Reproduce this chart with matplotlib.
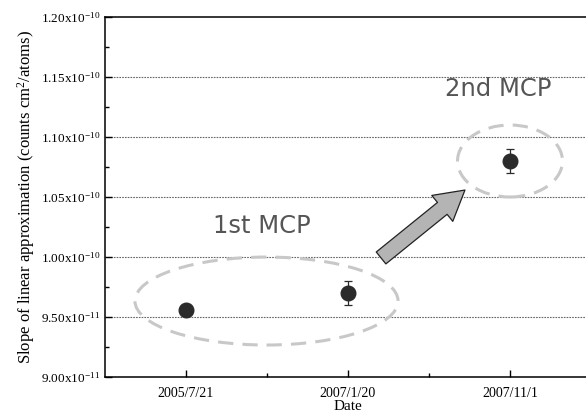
import matplotlib
matplotlib.use("Agg")
import matplotlib.pyplot as plt
from matplotlib.patches import Ellipse
from matplotlib.ticker import MultipleLocator, FixedLocator

plt.rcParams['font.family'] = ['Liberation Serif']
plt.rcParams['mathtext.fontset'] = 'custom'
plt.rcParams['mathtext.rm'] = 'Liberation Serif'
plt.rcParams['mathtext.it'] = 'Liberation Serif:italic'

dates = ["2005/7/21", "2007/1/20", "2007/11/1"]
slopes = [0.9555e-10, 0.970e-10, 1.080e-10]
errors = [0.0, 0.010e-10, 0.010e-10]
ytick_vals = [0.90e-10, 0.95e-10, 1.00e-10, 1.05e-10, 1.10e-10, 1.15e-10, 1.20e-10]
ytick_labels = [r"9.00x10$^{-11}$", r"9.50x10$^{-11}$", r"1.00x10$^{-10}$", r"1.05x10$^{-10}$",
                r"1.10x10$^{-10}$", r"1.15x10$^{-10}$", r"1.20x10$^{-10}$"]
group_labels = ["1st MCP", "2nd MCP"]

fig = plt.figure(figsize=(5.86, 4.15), dpi=100)
ax = fig.add_axes([105/586, 38/415, 486/586, 360/415])

x = list(range(1, len(dates) + 1))
ax.set_xlim(0.5, 3.5)
ax.set_ylim(0.90e-10, 1.20e-10)

for yv in ytick_vals[1:-1]:
    ax.axhline(yv, color="#666666", lw=0.8, ls=(0, (1.5, 1.0)), zorder=1)

ax.errorbar(x, slopes, yerr=errors, fmt="o", color="#2b2b2b", ms=10.5,
            ecolor="#2b2b2b", elinewidth=0.9, capsize=3, capthick=0.9, zorder=5)

ax.set_xticks(x)
ax.set_xticklabels(dates, fontsize=10)
ax.xaxis.set_minor_locator(FixedLocator([1.5, 2.5]))
ax.set_yticks(ytick_vals)
ax.set_yticklabels(ytick_labels, fontsize=9.5)
ax.yaxis.set_minor_locator(MultipleLocator(0.025e-10))
ax.tick_params(which="both", direction="in", top=False, right=False, width=1)
ax.tick_params(which="major", length=5)
ax.tick_params(which="minor", length=3)
ax.tick_params(axis="x", pad=7)
for s in ax.spines.values():
    s.set_linewidth(1.1)

ax.set_xlabel("Date", fontsize=11, labelpad=0)
ax.set_ylabel(r"Slope of linear approximation (counts cm$^2$/atoms)", fontsize=12, labelpad=3)

# ellipses
e1 = Ellipse((1.497, 0.9633e-10), 1.624, 0.0733e-10, fill=False, ec="#c8c8c8", lw=2.2,
             ls=(0, (5, 3)), zorder=2)
e2 = Ellipse((3.0, 1.080e-10), 0.648, 0.060e-10, fill=False, ec="#c8c8c8", lw=2.2,
             ls=(0, (5, 3)), zorder=2)
ax.add_patch(e1)
ax.add_patch(e2)

ax.text(1.469, 1.0258e-10, group_labels[0], fontsize=17.5, color="#555555",
        family="DejaVu Sans", ha="center", va="center")
ax.text(2.926, 1.140e-10, group_labels[1], fontsize=17.5, color="#555555",
        family="DejaVu Sans", ha="center", va="center")

ax.annotate("", xy=(2.722, 1.0558e-10), xytext=(2.204, 0.9992e-10),
            arrowprops=dict(arrowstyle="simple,head_width=24,head_length=21,tail_width=11",
                            mutation_scale=1, fc="#b4b4b4", ec="#222222", lw=0.9,
                            shrinkA=0, shrinkB=0),
            zorder=4)

fig.savefig("out.png", dpi=100)
